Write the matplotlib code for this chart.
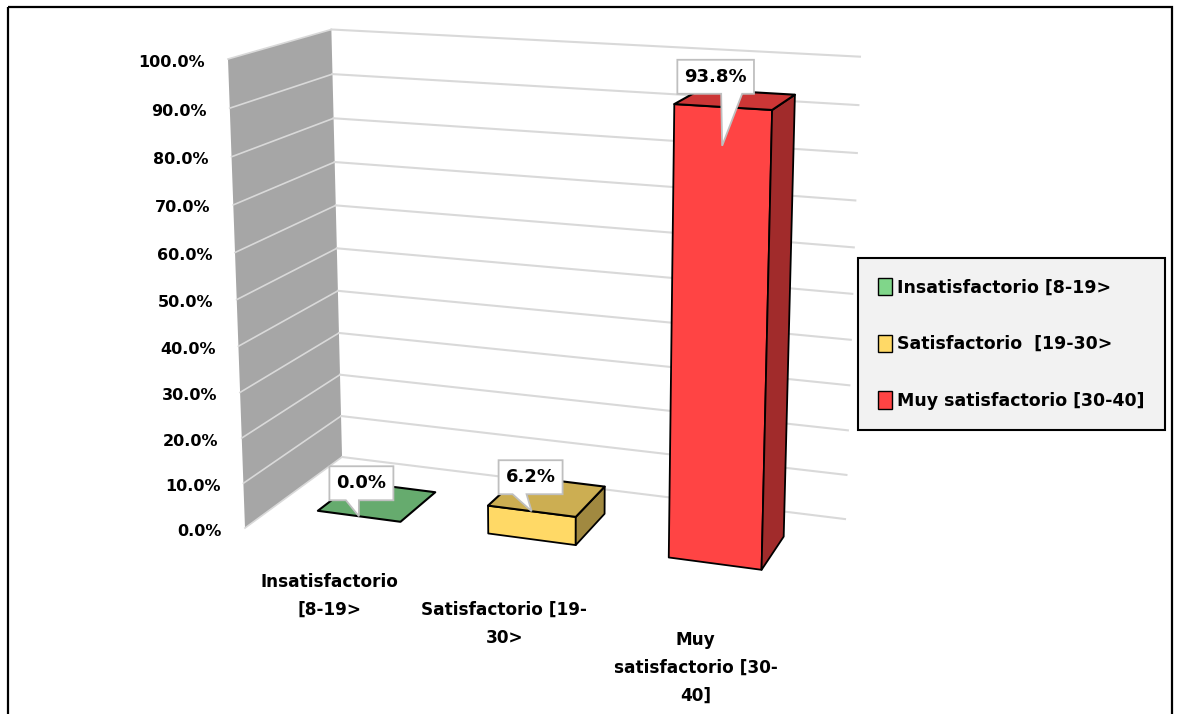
import numpy as np
import matplotlib
matplotlib.use("Agg")
import matplotlib.pyplot as plt
from matplotlib.patches import Polygon, Patch, Rectangle
from matplotlib.colors import to_rgb

categories = ["Insatisfactorio\n[8-19>", "Satisfactorio [19-\n30>", "Muy\nsatisfactorio [30-\n40]"]
series_names = ["Insatisfactorio [8-19>", "Satisfactorio  [19-30>", "Muy satisfactorio [30-40]"]
percent = [0.0, 6.2, 93.8]
y_ticks = list(range(0, 101, 10))
colors = ["#80D68A", "#FFD966", "#FF4444"]

W, H = 1178, 714

# perspective camera: vanishing points of the category, depth and value
# directions, image of the floor's front-left corner and a scale per axis
vp_x, vp_y, vp_z = (-5590, -275), (1307, -249), (562, 9264)
origin = (245, 528)
lam = (-0.08602, 0.10057, -0.05095)
cam = np.array([
    [lam[0] * vp_x[0], lam[1] * vp_y[0], lam[2] * vp_z[0], origin[0]],
    [lam[0] * vp_x[1], lam[1] * vp_y[1], lam[2] * vp_z[1], origin[1]],
    [lam[0], lam[1], lam[2], 1.0],
])


def proj(x, y, z):
    u, v, w = cam @ np.array([x, y, z, 1.0])
    return u / w, v / w


fig = plt.figure(figsize=(W / 100, H / 100), dpi=100)
ax = fig.add_axes([0, 0, 1, 1])
ax.set_xlim(0, W)
ax.set_ylim(H, 0)
ax.axis("off")

grid_c = "#D9D9D9"

# side wall + gridlines on both walls
side = [proj(0, 0, 0), proj(0, 1, 0), proj(0, 1, 1), proj(0, 0, 1)]
ax.add_patch(Polygon(side, closed=True, fc="#A6A6A6", ec="none", zorder=1))
for t in y_ticks:
    z = t / 100
    a, b, c = proj(0, 0, z), proj(0, 1, z), proj(1, 1, z)
    ax.plot([a[0], b[0]], [a[1], b[1]], color=grid_c, lw=1.2, zorder=2)
    ax.plot([b[0], c[0]], [b[1], c[1]], color=grid_c, lw=1.5, zorder=2)
    ax.text(a[0] - 23, a[1] + 3, f"{t:.1f}%", ha="right", va="center",
            fontsize=11.5, fontweight="bold", color="black")

# bars
n = len(categories)
half_w = 0.082
y0, y1 = 0.30, 0.70
for i, (p, c) in enumerate(zip(percent, colors)):
    xc = (i + 0.5) / n
    xa, xb = xc - half_w, xc + half_w
    z = p / 100
    base = np.array(to_rgb(c))
    top = [proj(xa, y0, z), proj(xb, y0, z), proj(xb, y1, z), proj(xa, y1, z)]
    if z > 0:
        front = [proj(xa, y0, 0), proj(xb, y0, 0), proj(xb, y0, z), proj(xa, y0, z)]
        right = [proj(xb, y0, 0), proj(xb, y1, 0), proj(xb, y1, z), proj(xb, y0, z)]
        ax.add_patch(Polygon(front, closed=True, fc=base, ec="black", lw=1.3,
                             joinstyle="round", zorder=3))
        ax.add_patch(Polygon(right, closed=True, fc=base * 0.63, ec="black", lw=1.3,
                             joinstyle="round", zorder=3))
    ax.add_patch(Polygon(top, closed=True, fc=base * 0.8, ec="black", lw=1.5,
                         joinstyle="round", zorder=3))

    # category label under the floor edge
    u, v = proj(xc, 0, 0)
    ax.text(u - 3 * (i == 1), v + 33 + 4 * i, categories[i], ha="center", va="top",
            fontsize=12.2, fontweight="bold", linespacing=1.7)

# data label callouts
label_drop = [0.0, 0.0, 0.076]
label_shift = [(2.5, -33), (-1, -34), (-6.5, -69)]
wedge_base = [(-13, 0), (-19, -5), (-1, 20)]
renderer = fig.canvas.get_renderer()
inv = ax.transData.inverted()
for i, p in enumerate(percent):
    xc = (i + 0.5) / n
    tip = proj(xc, y0, p / 100 - label_drop[i])
    tx, ty = tip[0] + label_shift[i][0], tip[1] + label_shift[i][1]
    txt = ax.text(tx, ty, f"{p:.1f}%", ha="center", va="center", fontsize=13,
                  fontweight="bold", zorder=6)
    bb = txt.get_window_extent(renderer)
    (x_lo, y_hi), (x_hi, y_lo) = inv.transform([[bb.x0, bb.y0], [bb.x1, bb.y1]])
    hw = (x_hi - x_lo) / 2 + 7
    hh = (y_hi - y_lo) / 2 + 8
    L, R, T, B = tx - hw, tx + hw, ty - hh, ty + hh
    bl, br = wedge_base[i]
    shape = [(L, T), (R, T), (R, B), (tip[0] + br, B), tip, (tip[0] + bl, B), (L, B)]
    ax.add_patch(Polygon(shape, closed=True, fc="white", ec="#BFBFBF", lw=1.3,
                         zorder=5))

handles = [Patch(facecolor=c, edgecolor="black", linewidth=1) for c in colors]
leg = fig.legend(handles, series_names, loc="upper left",
                 bbox_to_anchor=(858 / W, 1 - 258 / H), frameon=True, fancybox=False,
                 framealpha=1, facecolor="#F2F2F2", edgecolor="black",
                 prop={"weight": "bold", "size": 12.5}, handlelength=0.82,
                 handleheight=1.15, handletextpad=0.3, labelspacing=2.2,
                 borderpad=1.15, borderaxespad=0)
leg.get_frame().set_linewidth(1.5)

# chart area border
ax.add_patch(Rectangle((8, 7), 1164, 720, fill=False, ec="black", lw=1.6,
                       zorder=10, clip_on=False))

fig.savefig("out.png", dpi=100)
